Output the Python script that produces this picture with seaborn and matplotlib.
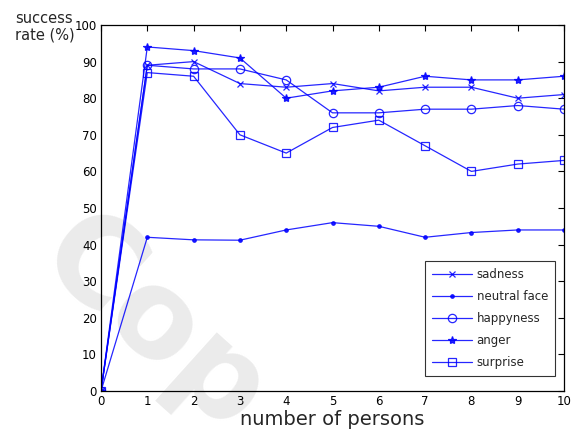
import matplotlib
matplotlib.use("Agg")
import matplotlib.pyplot as plt
import seaborn as sns
import pandas as pd

persons = [0, 1, 2, 3, 4, 5, 6, 7, 8, 9, 10]
sadness = [0, 89, 90, 84, 83, 84, 82, 83, 83, 80, 81]
neutral_face = [0, 42, 41.3, 41.2, 44, 46, 45, 42, 43.3, 44, 44]
happyness = [0, 89, 88, 88, 85, 76, 76, 77, 77, 78, 77]
anger = [0, 94, 93, 91, 80, 82, 83, 86, 85, 85, 86]
surprise = [0, 87, 86, 70, 65, 72, 74, 67, 60, 62, 63]

series_names = ["sadness", "neutral face", "happyness", "anger", "surprise"]
series_values = [sadness, neutral_face, happyness, anger, surprise]
x_ticks = list(range(0, 11))
y_ticks = list(range(0, 101, 10))

sns.set_theme(style="white")
plt.rcParams["font.family"] = ["DejaVu Sans"]

fig = plt.figure(figsize=(5.73, 4.29), dpi=100)
fig.patch.set_facecolor("white")

# watermark behind everything
fig.text(0.268, 0.24, "Cop", fontsize=88, fontweight="bold", color="#ebebeb",
         rotation=-42, ha="center", va="center", zorder=0)

ax = fig.add_axes([101 / 573, 1 - 391 / 429, 463 / 573, 366 / 429])
ax.set_facecolor("none")
ax.set_zorder(1)

rows = []
for name, vals in zip(series_names, series_values):
    for x, v in zip(persons, vals):
        rows.append({"persons": x, "rate": v, "series": name})
df = pd.DataFrame(rows)

styles = {
    "sadness": dict(marker="x", markersize=5, mfc="blue"),
    "neutral face": dict(marker=".", markersize=5, mfc="blue"),
    "happyness": dict(marker="o", markersize=6, mfc="none"),
    "anger": dict(marker="*", markersize=6, mfc="blue"),
    "surprise": dict(marker="s", markersize=6, mfc="none"),
}

for name in series_names:
    st = styles[name]
    sns.lineplot(data=df[df["series"] == name], x="persons", y="rate", ax=ax,
                 color="blue", linewidth=0.9, marker=st["marker"],
                 markersize=st["markersize"], markerfacecolor=st["mfc"],
                 markeredgecolor="blue", markeredgewidth=0.9, label=name,
                 errorbar=None, alpha=0.85)

ax.set_xlim(0, 10)
ax.set_ylim(0, 100)
ax.set_xticks(x_ticks)
ax.set_yticks(y_ticks)
ax.tick_params(direction="in", length=4, width=0.8, top=True, right=True,
               labelsize=8.5, colors="black", pad=3)
for sp in ax.spines.values():
    sp.set_visible(True)
    sp.set_color("black")
    sp.set_linewidth(0.9)

ax.set_ylabel("")
ax.set_xlabel("number of persons", fontsize=14, labelpad=1)
fig.text(15 / 573, 1 - 11 / 429, "success\nrate (%)", fontsize=10.5,
         ha="left", va="top", linespacing=1.1)

leg = ax.legend(loc="lower right", bbox_to_anchor=(0.9806, 0.041), fontsize=8.5,
                frameon=True, fancybox=False, edgecolor="black",
                handlelength=3.4, borderpad=0.6, labelspacing=0.75,
                handletextpad=0.4, borderaxespad=0)
leg.get_frame().set_linewidth(0.8)
leg.get_frame().set_facecolor("white")

fig.savefig("out.png", dpi=100, facecolor="white")
